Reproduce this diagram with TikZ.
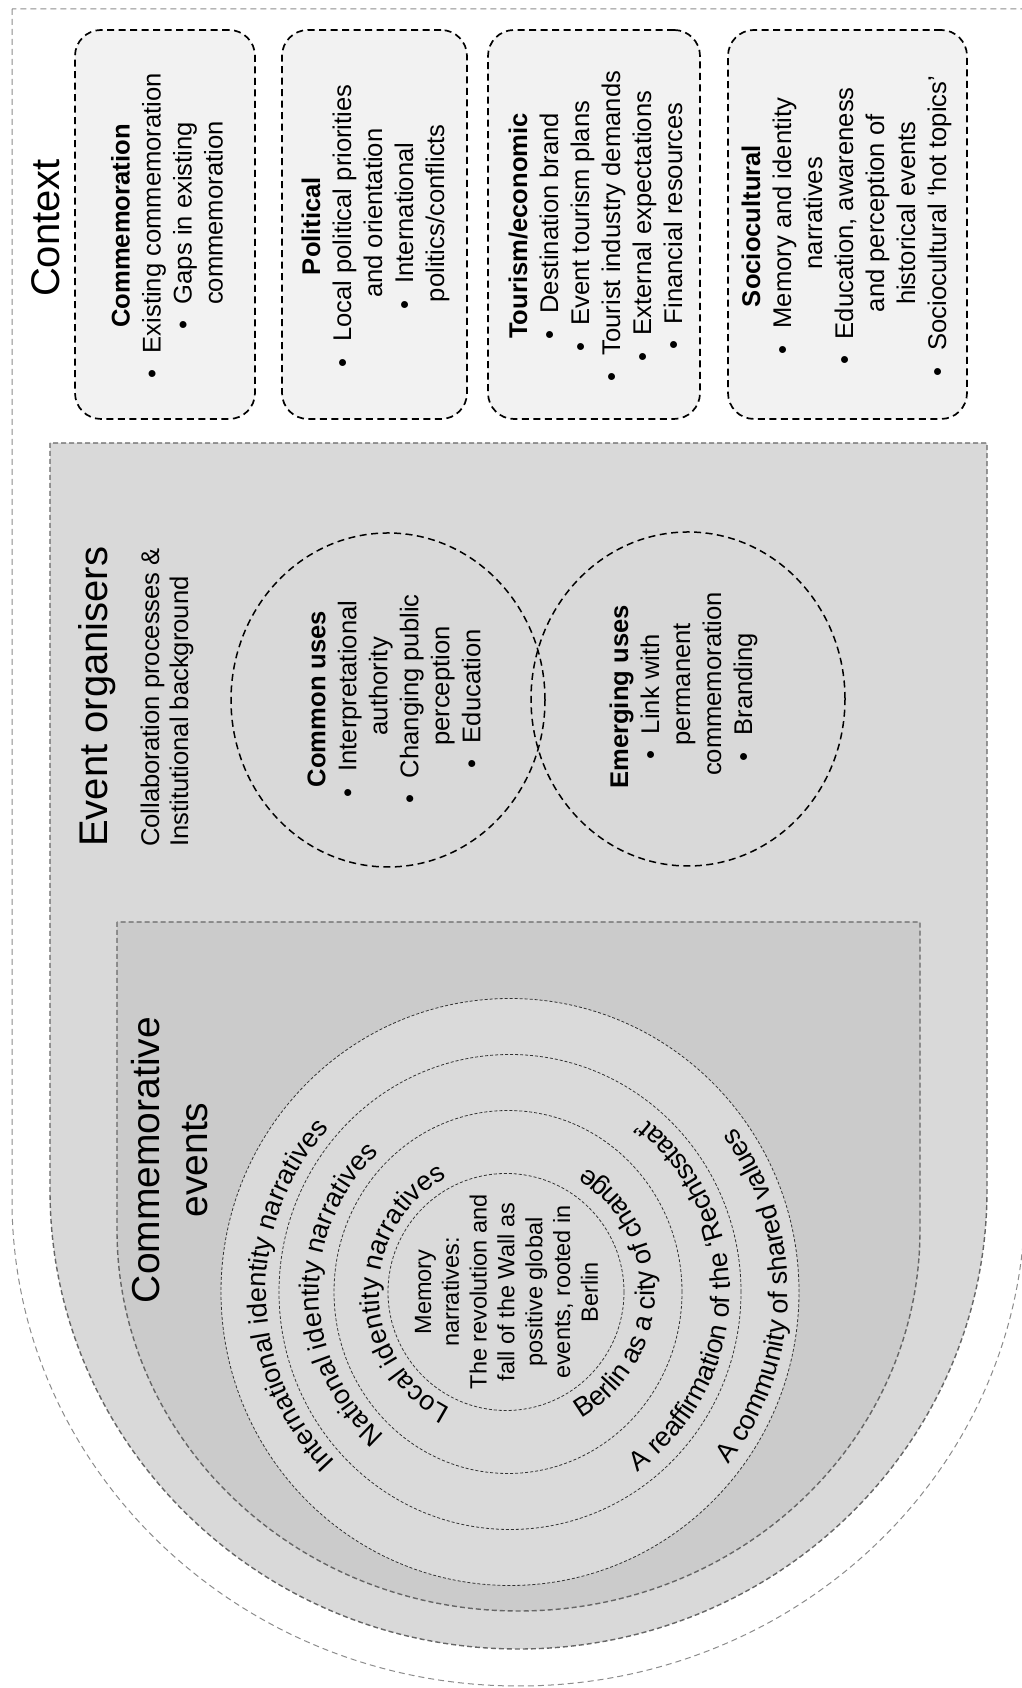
\documentclass[tikz,border=0pt]{standalone}
\usepackage{fontspec}
\setmainfont{Liberation Sans}
\usetikzlibrary{decorations.text}
\newcommand\bodyfont{\fontsize{25.6}{31}\selectfont}
\newcommand\bigfont{\fontsize{40}{48}\selectfont}
\newcommand\innerfont{\fontsize{23.5}{27.8}\selectfont}
\newcommand\ringfont{\fontsize{27}{30}\selectfont}
\newcommand\bul{\textbullet\hspace{0.65em}}
\newcommand\cont{\hphantom{\textbullet\hspace{0.65em}}}
\definecolor{boxfill}{HTML}{F2F2F2}
\definecolor{orgfill}{HTML}{D9D9D9}
\definecolor{evfill}{HTML}{CBCBCB}
\definecolor{ringfill}{HTML}{DADADA}
\begin{document}
\begin{tikzpicture}[x=1pt,y=1pt,
  outerline/.style={draw=black!45, line width=1pt, dash pattern=on 6pt off 4pt},
  layerline/.style={draw=black!60, line width=1.4pt, dash pattern=on 5pt off 3pt},
  ctxbox/.style={draw=black, fill=boxfill, line width=1.7pt, dash pattern=on 7pt off 4.5pt, rounded corners=26pt, inner sep=0pt},
  venn/.style={draw=black, line width=1.5pt, dash pattern=on 7pt off 4.5pt},
  ring/.style={draw=black!80, line width=0.8pt, dash pattern=on 3pt off 2pt},
  txt/.style={rotate=90, align=center, font=\bodyfont, inner sep=0pt},
  ringtext/.style={decorate, decoration={text along path, text align=center, text={#1}}},
  ]
\useasboundingbox (0,0) rectangle (1021,1688);
\fill[white] (0,0) rectangle (1021,1688);

% Context (outer)
\draw[outerline] (12,1679) -- (12,488) arc[start angle=180,end angle=360,x radius=506.5pt,y radius=486pt] -- (1025,1679) -- cycle;
\node[rotate=90, font=\bigfont, inner sep=0pt] (ctxtitle) at (46,1460) {Context};

% Context boxes
\node[ctxbox, minimum width=180pt, minimum height=389pt] (b1) at (165,1463.5) {};
\node[ctxbox, minimum width=185pt, minimum height=389pt] (b2) at (374.5,1463.5) {};
\node[ctxbox, minimum width=212pt, minimum height=389pt] (b3) at (594,1463.5) {};
\node[ctxbox, minimum width=239pt, minimum height=389pt] (b4) at (847.5,1463.5) {};

\node[txt] (t1) at (167,1462) {\textbf{Commemoration}\\ \bul Existing commemoration\\ \bul Gaps in existing\\ \cont commemoration};
\node[txt] (t2) at (375.5,1462) {\textbf{Political}\\ \bul Local political priorities\\ \cont and orientation\\ \bul International\\ \cont politics/conflicts};
\node[txt] (t3) at (595.5,1462) {\textbf{Tourism/economic}\\ \bul Destination brand\\ \bul Event tourism plans\\ \bul Tourist industry demands\\ \bul External expectations\\ \bul Financial resources};
\node[txt] (t4) at (846.5,1462) {\textbf{Sociocultural}\\ \bul Memory and identity\\ \cont narratives\\ \bul Education, awareness\\ \cont and perception of\\ \cont historical events\\ \bul Sociocultural ‘hot topics’};

% Event organisers
\draw[layerline, fill=orgfill] (50,1245) -- (50,498) arc[start angle=180,end angle=360,x radius=468.5pt,y radius=459pt] -- (987,1245) -- cycle;
\node[rotate=90, anchor=base west, font=\bigfont, inner sep=0pt] (eotitle) at (107,841) {Event organisers};
\node[rotate=90, anchor=base west, font=\bodyfont, inner sep=0pt] (eosub1) at (159,841) {Collaboration processes \&};
\node[rotate=90, anchor=base west, font=\bodyfont, inner sep=0pt] (eosub2) at (188,841) {Institutional background};

\draw[venn] (388,988) ellipse[x radius=157pt, y radius=167pt];
\draw[venn] (688,989) ellipse[x radius=157pt, y radius=167pt];
\node[txt] (common) at (394,989) {\textbf{Common uses}\\ \bul Interpretational\\ \cont authority\\ \bul Changing public\\ \cont perception\\ \bul Education};
\node[txt] (emerging) at (683.5,991) {\textbf{Emerging uses}\\ \bul Link with\\ \cont permanent\\ \cont commemoration\\ \bul Branding};

% Commemorative events
\draw[layerline, fill=evfill] (117,766) -- (117,458) arc[start angle=180,end angle=360,x radius=401.5pt,y radius=381pt] -- (920,766) -- cycle;
\node[txt, font=\fontsize{39}{48}\selectfont] (cetitle) at (170,528) {Commemorative\\events};

% nested rings
\draw[ring, fill=ringfill] (510,396) ellipse[x radius=289pt, y radius=293.5pt];
\draw[ring] (510,396) ellipse[x radius=231pt, y radius=237.5pt];
\draw[ring] (508,396) ellipse[x radius=174pt, y radius=181.5pt];
\draw[ring] (506,396) ellipse[x radius=118pt, y radius=118.5pt];

\node[txt, font=\innerfont] (memory) at (506.5,396) {Memory\\ narratives:\\ The revolution and\\ fall of the Wall as\\ positive global\\ events, rooted in\\ Berlin};

\coordinate (rc) at (509,396);
\path[ringtext={|\ringfont|International identity narratives}] ([shift={(271:243pt)}]rc) arc[start angle=271, end angle=91, radius=243pt];
\path[ringtext={|\ringfont|National identity narratives}] ([shift={(271:190pt)}]rc) arc[start angle=271, end angle=91, radius=190pt];
\path[ringtext={|\ringfont|Local identity narratives}] ([shift={(271:130pt)}]rc) arc[start angle=271, end angle=91, radius=130pt];
\path[ringtext={|\ringfont|A community of shared values}] ([shift={(-91:279pt)}]rc) arc[start angle=-91, end angle=89, radius=279pt];
\path[ringtext={|\ringfont|A reaffirmation of the ‘Rechtsstaat’}] ([shift={(-91:221pt)}]rc) arc[start angle=-91, end angle=89, radius=221pt];
\path[ringtext={|\ringfont|Berlin as a city of change}] ([shift={(-91:146pt)}]rc) arc[start angle=-91, end angle=89, radius=146pt];
\end{tikzpicture}
\end{document}
